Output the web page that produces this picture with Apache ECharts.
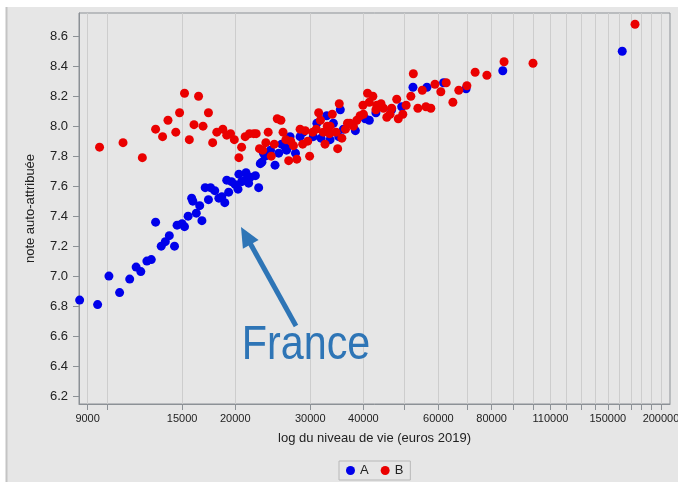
<!DOCTYPE html>
<html><head><meta charset="utf-8">
<script src="https://cdn.jsdelivr.net/npm/echarts@6/dist/echarts.min.js"></script>
<style>html,body{margin:0;padding:0;background:#fff}#c{width:678px;height:482px}</style>
</head><body><div id="c"></div>
<script>
// ---- data ----
const seriesNames = ['A', 'B'];
const incomeA = [8620, 9500, 10100, 10700, 11300, 11700, 12000, 12400, 12700, 13000,
  13400, 13700, 14000, 14400, 14600, 15000, 15200, 15500, 15800, 15900,
  16200, 16500, 16700, 17000, 17300, 17500, 17900, 18300, 18600, 18900,
  19300, 19100, 19600, 20000, 20300, 20400, 20700, 21200, 21700, 22300,
  21100, 21500, 22700, 22900, 23100, 23500, 23300, 24200, 24800, 25300,
  27700, 26400, 26800, 26200, 25700, 26900, 28400, 28900, 30500, 31800,
  31100, 33400, 34000, 32800, 35300, 35000, 35900, 38300, 40400, 41300,
  42800, 46600, 49200, 52300, 56400, 61700, 69700, 85000, 162200];
const scoreA = [6.84, 6.81, 7.00, 6.89, 6.98, 7.06, 7.03, 7.10, 7.11, 7.36,
  7.20, 7.23, 7.27, 7.20, 7.34, 7.35, 7.33, 7.40, 7.52, 7.50,
  7.42, 7.47, 7.37, 7.59, 7.51, 7.59, 7.57, 7.52, 7.53, 7.49,
  7.56, 7.64, 7.63, 7.61, 7.58, 7.68, 7.63, 7.69, 7.66, 7.67,
  7.64, 7.62, 7.59, 7.75, 7.76, 7.80, 7.82, 7.84, 7.74, 7.82,
  7.82, 7.84, 7.87, 7.86, 7.88, 7.93, 7.93, 7.96, 7.93, 7.92,
  8.02, 7.91, 8.02, 8.07, 8.11, 7.93, 7.98, 7.97, 8.05, 8.04,
  8.09, 8.11, 8.13, 8.26, 8.26, 8.29, 8.25, 8.37, 8.50];
const incomeB = [9600, 10900, 12100, 13000, 13500, 13900, 14500, 14800, 15200, 15600,
  16000, 16400, 16800, 17300, 17700, 18100, 18700, 19100, 19500, 19900,
  20400, 20700, 21100, 21600, 22100, 22400, 23900, 25900, 22800, 23200,
  23600, 24700, 24300, 25100, 25600, 26300, 27000, 27400, 26700, 27900,
  28400, 29200, 28800, 29600, 29900, 30400, 31000, 31400, 31700, 32200,
  32900, 33400, 33300, 32500, 33800, 34500, 34800, 35600, 35100, 36300,
  36700, 37200, 37900, 38600, 52400, 40900, 42100, 39900, 41300, 43000,
  44000, 44600, 40000, 39300, 42800, 46600, 47900, 46200, 45400, 49500,
  48300, 50400, 51700, 55000, 53700, 56100, 57600, 58900, 60800, 62600,
  64900, 67000, 70000, 73200, 78000, 85600, 100100, 173800];
const scoreB = [7.86, 7.89, 7.79, 7.98, 7.93, 8.04, 7.96, 8.09, 8.22, 7.91,
  8.01, 8.20, 8.00, 8.09, 7.89, 7.96, 7.98, 7.94, 7.95, 7.91,
  7.79, 7.86, 7.93, 7.95, 7.95, 7.95, 7.96, 7.96, 7.85, 7.84,
  7.89, 7.88, 7.80, 8.05, 8.04, 7.91, 7.90, 7.87, 7.77, 7.78,
  7.98, 7.97, 7.88, 7.90, 7.80, 7.96, 7.98, 8.09, 8.04, 7.96,
  8.00, 8.00, 7.95, 7.88, 8.08, 7.96, 7.85, 7.92, 8.15, 7.98,
  8.02, 8.02, 8.00, 8.04, 8.35, 8.22, 8.20, 8.14, 8.16, 8.14,
  8.15, 8.12, 8.08, 8.07, 8.11, 8.12, 8.18, 8.08, 8.06, 8.08,
  8.05, 8.14, 8.20, 8.24, 8.12, 8.13, 8.12, 8.28, 8.23, 8.29,
  8.16, 8.24, 8.27, 8.36, 8.34, 8.43, 8.42, 8.68];
const xTickValues = [9000, 10000, 15000, 20000, 30000, 40000, 50000, 60000, 70000, 80000,
  90000, 100000, 110000, 120000, 130000, 140000, 150000, 160000, 170000, 180000, 190000, 200000];
const xLabelValues = [9000, 15000, 20000, 30000, 40000, 60000, 80000, 110000, 150000, 200000];
const yTickValues = [6.2, 6.4, 6.6, 6.8, 7.0, 7.2, 7.4, 7.6, 7.8, 8.0, 8.2, 8.4, 8.6];
const xRange = [8590, 210000];
const yRange = [6.147, 8.755];
const xTitle = 'log du niveau de vie (euros 2019)';
const yTitle = 'note auto-attribuée';
const annotation = 'France';

// ---- chart ----
const FONT = 'Liberation Sans';
const AXIS_COLOR = '#8c9196';
const lg = Math.log10;
const pts = (xs, ys) => xs.map((x, i) => [lg(x), ys[i]]);

const chart = echarts.init(document.getElementById('c'), null, {renderer: 'canvas'});
chart.setOption({
  backgroundColor: '#ffffff',
  animation: false,
  textStyle: {fontFamily: FONT},
  graphic: [
    {type: 'rect', z: -100, silent: true, shape: {x: 6, y: 7, width: 672, height: 475},
      style: {fill: '#e6e6e6'}},
    {type: 'line', z: -99, silent: true, shape: {x1: 6.5, y1: 7, x2: 6.5, y2: 482},
      style: {stroke: '#c4c4c4', lineWidth: 2}},
    {type: 'line', z: 100, silent: true, shape: {x1: 296, y1: 326, x2: 250, y2: 243},
      style: {stroke: '#2e75b6', lineWidth: 5}},
    {type: 'polygon', z: 100, silent: true,
      shape: {points: [[241, 227], [242.9, 248.8], [258.6, 240.0]]},
      style: {fill: '#2e75b6'}},
    {type: 'text', z: 100, silent: true, x: 306, y: 346, scaleX: 0.86,
      style: {text: annotation, font: '48px "Liberation Sans"', fill: '#2e75b6',
        textAlign: 'center', textVerticalAlign: 'middle'}}
  ],
  grid: {left: 79, top: 13, right: 8, bottom: 78, show: true, containLabel: false,
    outerBoundsMode: 'none',
    backgroundColor: '#e6e6e6', borderColor: AXIS_COLOR, borderWidth: 1},
  legend: {
    data: seriesNames, left: 339, top: 461, padding: [3, 7], itemGap: 12,
    itemWidth: 9, itemHeight: 9, icon: 'circle',
    borderColor: '#b8b8b8', borderWidth: 1,
    textStyle: {fontSize: 13, color: '#222', fontFamily: FONT}
  },
  xAxis: {
    type: 'value', min: lg(xRange[0]), max: lg(xRange[1]),
    name: xTitle, nameLocation: 'middle', nameGap: 28,
    nameTextStyle: {fontSize: 13, color: '#222', fontFamily: FONT},
    axisLine: {show: true, lineStyle: {color: AXIS_COLOR}},
    axisTick: {show: true, length: 6, lineStyle: {color: AXIS_COLOR},
      customValues: xTickValues.map(lg)},
    axisLabel: {customValues: xLabelValues.map(lg), margin: 9, fontSize: 11, color: '#222',
      fontFamily: FONT, hideOverlap: false,
      formatter: v => String(Math.round(Math.pow(10, v)))},
    splitLine: {show: true, lineStyle: {color: '#cdcdcd', width: 1}}
  },
  yAxis: {
    type: 'value', min: yRange[0], max: yRange[1],
    name: yTitle, nameLocation: 'middle', nameGap: 42, nameRotate: 90,
    nameTextStyle: {fontSize: 13, color: '#222', fontFamily: FONT},
    axisLine: {show: true, lineStyle: {color: AXIS_COLOR}},
    axisTick: {show: true, length: 6, lineStyle: {color: AXIS_COLOR}, customValues: yTickValues},
    axisLabel: {customValues: yTickValues, margin: 11, fontSize: 13, color: '#222',
      fontFamily: FONT, formatter: v => Number(v).toFixed(1)},
    splitLine: {show: false}
  },
  series: [
    {name: seriesNames[0], type: 'scatter', symbol: 'circle', symbolSize: 9,
      itemStyle: {color: '#0000ea', opacity: 1}, data: pts(incomeA, scoreA)},
    {name: seriesNames[1], type: 'scatter', symbol: 'circle', symbolSize: 9,
      itemStyle: {color: '#ea0000', opacity: 1}, data: pts(incomeB, scoreB)}
  ]
});
</script></body></html>
